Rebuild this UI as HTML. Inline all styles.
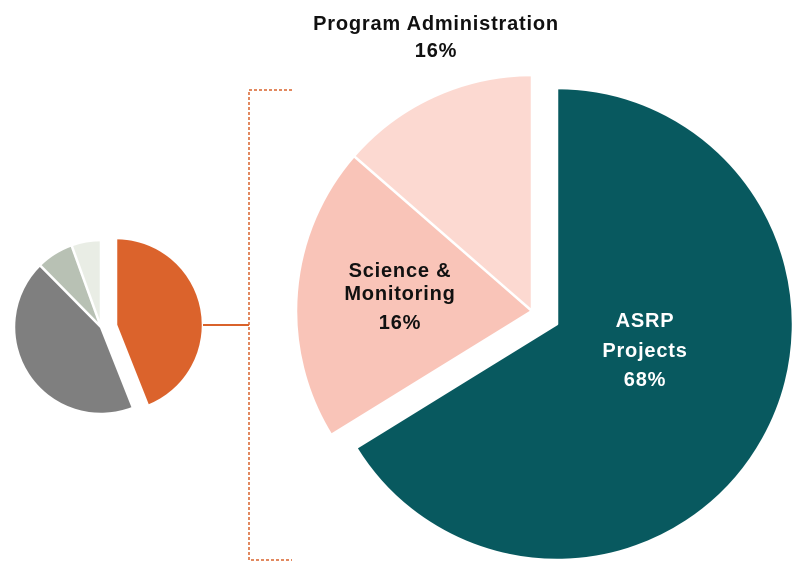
<!DOCTYPE html>
<html><head><meta charset="utf-8">
<style>
html,body{margin:0;padding:0;background:#fff;}
svg{display:block;font-family:"Liberation Sans",sans-serif;}
</style></head>
<body>
<svg id="chart" width="792" height="563" viewBox="0 0 792 563">
  <g id="small"></g>
  <g id="big"></g>
  <line x1="203" y1="325" x2="249" y2="325" stroke="#d9622b" stroke-width="2"/>
  <path d="M292 90 H249 V560 H292" fill="none" stroke="#d9622b" stroke-width="1.5" stroke-dasharray="3 2"/>
  <g font-size="20" font-weight="bold" letter-spacing="0.8">
  <text x="436" y="30" text-anchor="middle" fill="#111">Program Administration</text>
  <text x="436" y="57" text-anchor="middle" fill="#111">16%</text>
  <text text-anchor="middle" fill="#111"><tspan x="400" y="277">Science &amp;</tspan><tspan x="400" y="300">Monitoring</tspan><tspan x="400" y="329">16%</tspan></text>
  <text text-anchor="middle" fill="#fff"><tspan x="645" y="327">ASRP</tspan><tspan x="645" y="357">Projects</tspan><tspan x="645" y="386">68%</tspan></text>
  </g>
</svg>
<script>
// Big pie data (shares)
const bigCategories = ["ASRP Projects", "Science & Monitoring", "Program Administration"];
const bigValues = [66.2, 20.2, 13.6];
// Small pie data
const smallCategories = ["Selected", "Other A", "Other B", "Other C"];
const smallValues = [44, 43.6, 6.9, 5.5];

const NS = "http://www.w3.org/2000/svg";
function pt(cx, cy, r, a) { const t = a * Math.PI / 180; return [cx + r * Math.sin(t), cy - r * Math.cos(t)]; }
function arc(cx, cy, r, a0, a1) {
  const p0 = pt(cx, cy, r, a0), p1 = pt(cx, cy, r, a1);
  const large = (a1 - a0) > 180 ? 1 : 0;
  return `M${cx},${cy} L${p0[0]},${p0[1]} A${r},${r} 0 ${large} 1 ${p1[0]},${p1[1]} Z`;
}
function draw(groupId, values, cats, colors, centers, r, prefix) {
  const g = document.getElementById(groupId);
  const total = values.reduce((a, b) => a + b, 0);
  let a = 0;
  values.forEach((v, i) => {
    const a1 = a + v / total * 360;
    const c = centers[i];
    const p = document.createElementNS(NS, "path");
    p.setAttribute("d", arc(c[0], c[1], r, a, a1));
    p.setAttribute("fill", colors[i]);
    p.setAttribute("stroke", "#fff");
    p.setAttribute("stroke-width", "2.5");
    p.setAttribute("stroke-linejoin", "round");
    
    
    g.appendChild(p);
    a = a1;
  });
}
draw("big", bigValues, bigCategories, ["#08595f", "#f9c4b8", "#fcd9d1"],
  [[557, 324], [532, 311], [532, 311]], 236, "big");
draw("small", smallValues, smallCategories, ["#db632c", "#7f7f7f", "#b8c1b4", "#e9ede5"],
  [[116, 325], [101, 327], [101, 327], [101, 327]], 87, "small");
</script>
</body></html>
